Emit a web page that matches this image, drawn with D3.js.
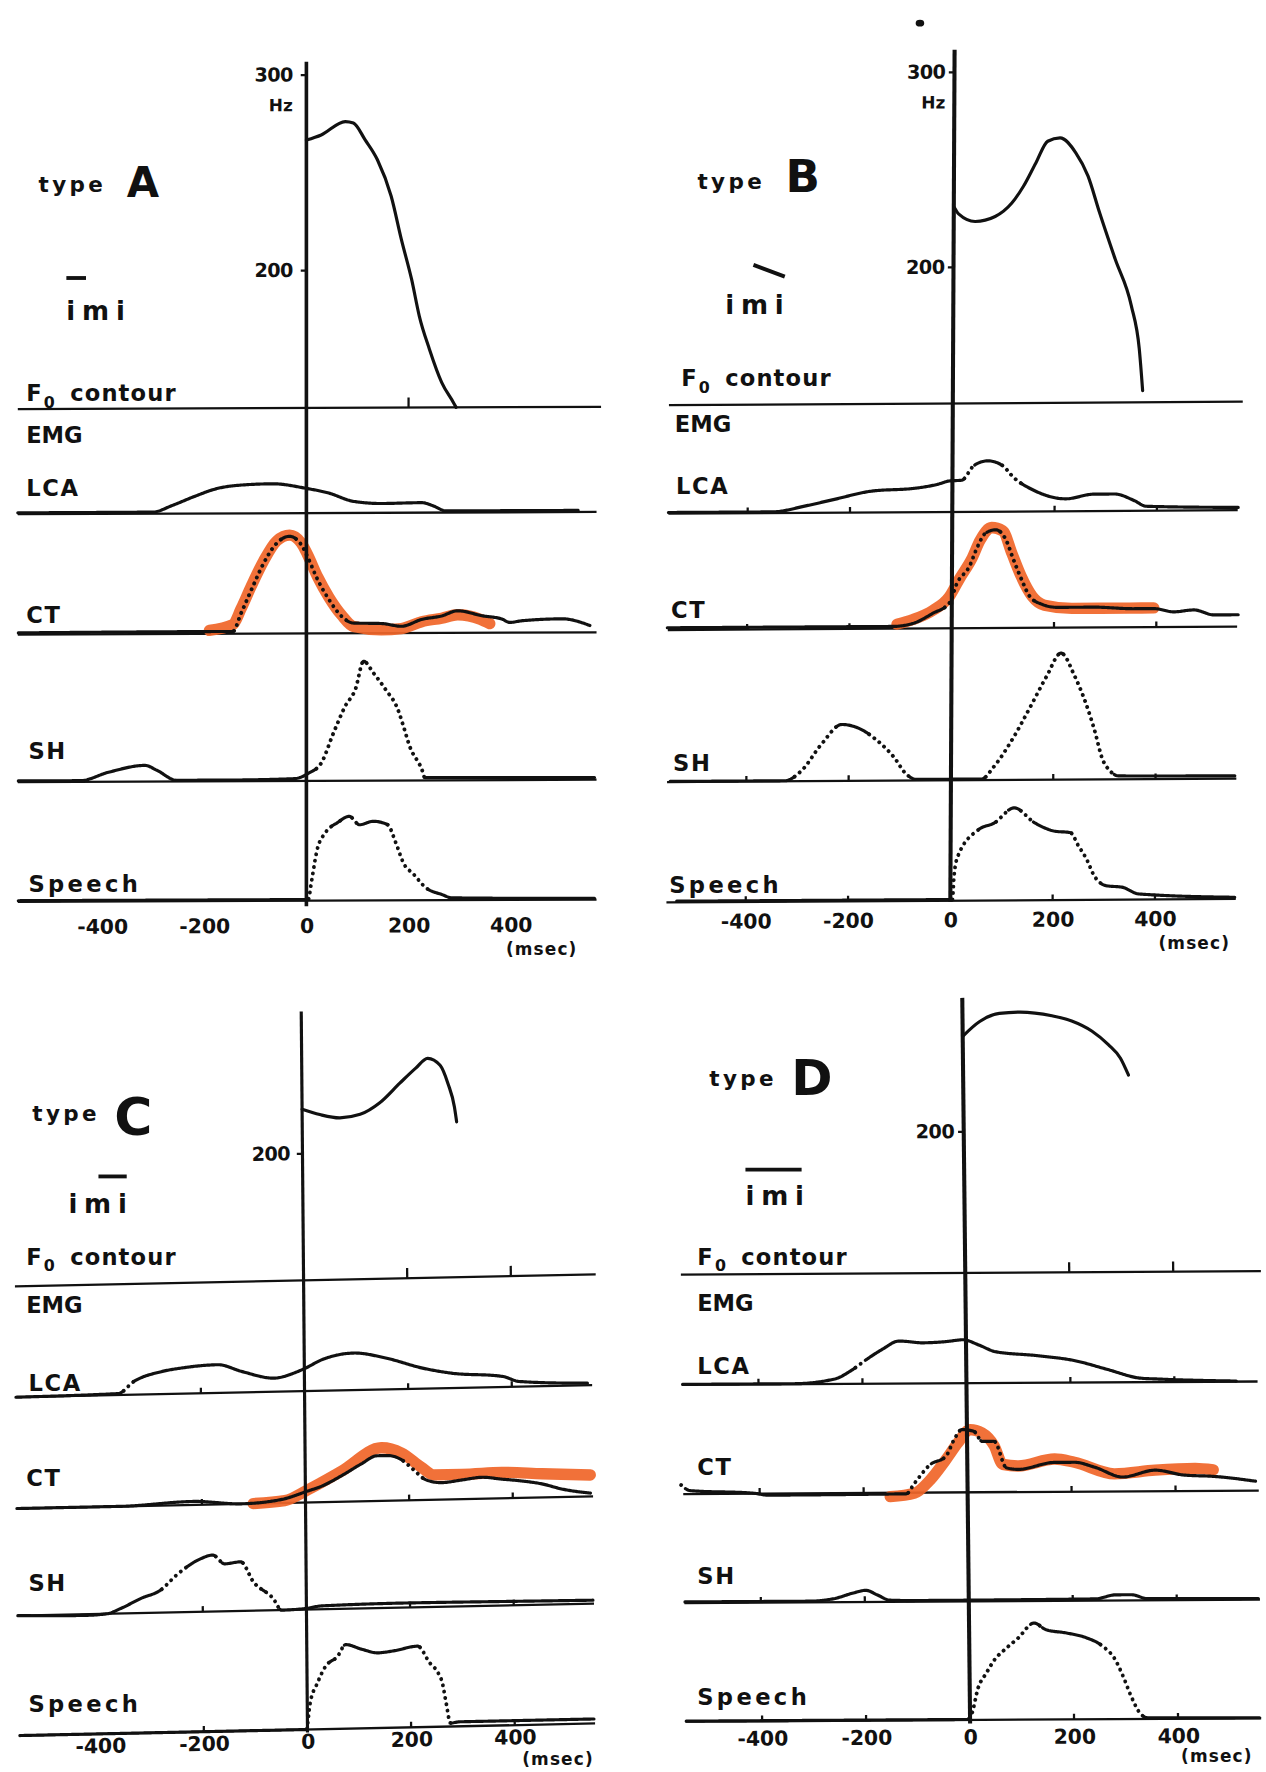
<!DOCTYPE html>
<html><head><meta charset="utf-8">
<script src="https://cdn.jsdelivr.net/npm/d3@7"></script>
<style>
body{margin:0;background:#fff}
svg{display:block}
text{font-family:"DejaVu Sans",sans-serif;fill:#111}
.solid{fill:none;stroke:#111;stroke-width:2.8;stroke-linecap:round;stroke-linejoin:round}
.dot{fill:none;stroke:#111;stroke-width:3.4;stroke-linecap:round;stroke-dasharray:0.1 5.6}
.orange{fill:none;stroke:#f0662a;stroke-width:10;stroke-linecap:round;stroke-linejoin:round;opacity:0.93}
.base{stroke:#111;stroke-width:2}
</style>
</head><body>
<svg id="c" width="1266" height="1772" viewBox="0 0 1120 1568"></svg>
<script>
// ---------------- DATA (time in msec, F0 in Hz, EMG / speech in arbitrary units) ----------------
const xTicks = [-400, -200, 0, 200, 400];
const typeNames = ["A", "B", "C", "D"];
const rowNames = ["LCA", "CT", "SH", "Speech"];

// type A
const A_F0 = [[0,266.5],[29,269.1],[76,275.9],[92,275.1],[115,266.5],[139,256.3],[166,237.6],[186,215.4],[206,195],[221,176.3],[241,159.2],[265,142.2],[288,131.9],[293,129.5]];
const A_LCA = [[-565,1.2],[-301,1.4],[-262,7.3],[-222,14.6],[-175,22],[-128,25],[-65,26],[-2,22],[44,17.6],[92,10.2],[147,8.2],[226,8.8],[249,5.8],[273,1.4],[532,1.4]];
const A_CT = [[-564,1.5],[-184,2],[-144,2],[-128,18],[-108,38.5],[-84,62],[-58,80],[-33,86],[-10,78.5],[2,68],[22,47.5],[44,30],[69,15],[92,9],[147,8.5],[186,6],[226,12],[265,15],[296,19.5],[344,15],[383,12],[398,9],[423,10.5],[501,12],[555,6]];
const A_CT_orange = [[-190,3],[-144,8],[-128,22],[-108,42],[-84,64],[-58,82],[-33,87],[-10,80],[2,70],[22,50],[44,32],[69,16],[92,6],[147,3],[186,4],[226,10],[265,13],[296,16],[340,12],[359,8]];
const A_SH = [[-564,1],[-443,1],[-387,8.4],[-316,14.3],[-293,10],[-254,1],[-157,1],[-24,2],[5,7],[29,15.7],[53,42.3],[76,66],[96,81],[112,105.7],[131,95.4],[155,80.6],[179,63],[190,48],[202,30.5],[226,9.8],[232,2.5],[564,2]];
const A_Speech = [[-564,1],[0,1],[4,1.5],[9.5,15.6],[21,45],[37,60],[61,69],[84,74.5],[104,67],[131,70],[159,67],[175,51],[190,33],[210,23],[234,11],[265,5],[285,2],[564,1]];

// type B
const B_F0 = [[0,231],[10,227],[42,223.2],[81,225.7],[113,232.4],[136,241.1],[160,253],[183,264.1],[207,265.8],[238,258.1],[262,246.2],[285,227.4],[316,203.5],[348,179.6],[364,157.4],[371,136]];
const B_F0_spot = [[-68,325]];
const B_LCA = [[-555,1],[-351,1],[-288,6],[-233,11.5],[-155,19],[-76,21],[-29,24.5],[-5,27.5],[18,28],[42,41],[69,45],[97,41],[120,30],[160,18.5],[222,11],[277,15],[317,15],[356,9],[379,4],[559,2.5]];
const B_CT = [[-556,2],[-115,2],[-76,4.5],[-37,13.4],[-5,22.3],[10,40],[34,54.7],[50,72.4],[65,84],[85,87],[105,78.3],[120,60.6],[136,43],[152,28],[175,21],[207,18],[277,18],[356,16.4],[395,16.4],[434,13.4],[473,15],[513,10.5],[560,10.5]];
const B_CT_orange = [[-107,4],[-76,8],[-37,16],[-5,28],[15,44],[38,61],[55,78],[77,89],[99,86],[117,66],[135,46],[157,28],[181,20],[236,17],[347,17],[395,17]];
const B_SH = [[-549,0.5],[-325,0.5],[-293,9],[-253,33],[-214,50],[-183,47],[-143,35],[-112,21],[-88,6],[-67,1],[60,1],[84,12],[123,38.5],[155,65],[186,91.5],[214,112],[241,91.5],[265,65],[280,44],[296,18],[311,7.5],[328,3],[555,2.5]];
const B_Speech = [[-535,1],[4,1],[7,22],[14,39],[54,62.6],[85,68.5],[124,81.8],[164,68.5],[203,61],[234,59.6],[250,47.8],[266,36],[281,21.3],[305,12.4],[336,11],[368,5],[556,1.5]];

// type C
const C_F0 = [[0,222.5],[34,219.6],[73,217.7],[112,219.3],[150,225],[189,234.8],[220,242.3],[243,247.2],[267,243.5],[282,234],[294,222],[298,214.4]];
const C_LCA = [[-557,0],[-360,1.3],[-329,11.8],[-275,20],[-236,22.8],[-167,25],[-121,18.6],[-59,12.1],[-12,17.6],[3,20.5],[34,27.5],[96,32.8],[158,27.7],[228,18.2],[282,13.3],[383,9.3],[414,4.6],[546,1.8]];
const C_CT = [[-557,0],[-357,0],[-217,3],[-124,0],[-47,3],[4,10],[31,14],[70,23],[108,33],[139,40],[159,40],[186,36],[209,27],[232,18],[263,15],[302,17],[341,19],[379,17],[418,15],[457,12],[496,7],[550,3]];
const C_CT_orange = [[-101,0],[-40,2],[4,11],[70,27],[147,47],[186,42],[224,29],[248,22],[302,22],[379,23],[457,21],[550,19]];
const C_SH = [[-557,0],[-425,-1],[-385,0],[-358,4.5],[-319,13],[-281,20],[-250,33],[-203,47],[-180,50],[-157,42],[-126,43.5],[-102,25.6],[-64,10.4],[-48,0],[0,1],[29,3],[184,4],[417,3.4],[553,3]];
const C_Speech = [[-555,0],[-2,0],[5,22],[20,41],[36,55.6],[59,64],[75,74.4],[106,70],[137,66.5],[168,68],[214,71.7],[237,56.7],[253,47.7],[261,38.8],[268,21],[276,3],[294,4],[553,4]];

// type D
const D_F0 = [[0,248.6],[33,256.1],[71,260.2],[110,260.8],[172,258.8],[210,256.1],[249,250.8],[280,243.9],[303,236.9],[318,228.3]];
const D_LCA = [[-546,0.5],[-330,0.5],[-253,4.5],[-222,11.7],[-191,21.8],[-161,30.5],[-129,37.7],[-83,36],[-37,37],[-6,38.5],[25,33.7],[56,27.8],[133,24.2],[210,19.3],[272,11.4],[334,3.6],[365,2.8],[519,0.5]];
const D_CT = [[-551,8],[-534,3],[-411,0.3],[-384,-1.5],[-118,-1],[-102,8.3],[-72,24.5],[-41,32],[-25,46.6],[-10,55.5],[13,54],[29,45],[52,45],[75,21.5],[98,20],[168,26],[206,26],[245,21.5],[299,12.7],[361,18.6],[415,14.2],[476,12.7],[554,8.3]];
const D_CT_orange = [[-149,-3.5],[-102,-0.5],[-72,11],[-41,29],[-18,43.6],[6,55.5],[29,52.5],[52,41],[68,24.5],[98,23],[168,29],[206,26],[283,15.6],[361,18.6],[438,20],[473,18.6]];
const D_SH = [[-546,1],[-307,1],[-260,3],[-222,8],[-198,10.3],[-175,6],[-152,1.5],[-107,1],[243,1.5],[283,5],[313,5],[343,1.5],[557,1]];
const D_Speech = [[-546,0.5],[-5,0.5],[2,4],[17,29.5],[32,41.3],[48,53],[71,63.3],[94,72.2],[125,85.5],[148,79.5],[187,76.5],[225,72.2],[256,64.8],[280,53],[295,38.2],[310,20.5],[326,5.8],[342,1],[557,0.5]];

// table built from the arrays above
const series = {
  A: {f0: A_F0, spots: [], LCA: A_LCA, CT: A_CT, CTo: A_CT_orange, SH: A_SH, Speech: A_Speech},
  B: {f0: B_F0, spots: B_F0_spot, LCA: B_LCA, CT: B_CT, CTo: B_CT_orange, SH: B_SH, Speech: B_Speech},
  C: {f0: C_F0, spots: [], LCA: C_LCA, CT: C_CT, CTo: C_CT_orange, SH: C_SH, Speech: C_Speech},
  D: {f0: D_F0, spots: [], LCA: D_LCA, CT: D_CT, CTo: D_CT_orange, SH: D_SH, Speech: D_Speech}
};

// ---------------- LAYOUT ----------------
const layout = {
  A:{x0:271,k:0.452,kx:0,ky:-0.004,f0Dom:[129.5,300],f0Rng:[361,66],f0Ticks:[200,300],hz:true,axisTop:54.6,axisBot:802,axisW:3.2,
     rows:{LCA:454,CT:560.5,SH:691,Speech:797},span:[-565,568],xlabOff:22,tickPad:7,f0Mark:[200],rowMarks:[],
     lab:{type:[34,170],letter:[112,174,37],mark:[58.6,246,76,246],imi:[58.6,283],f0:[23,355],emg:[23,392],
          LCA:[23,439],CT:[23,551],SH:[25,672],Speech:[25,789],msec:[447.6,845]}},
  B:{x0:843,k:0.4526,kx:-0.005,ky:-0.006,f0Dom:[130,300],f0Rng:[357,63.5],f0Ticks:[200,300],hz:true,axisTop:44,axisBot:798,axisW:3.6,
     rows:{LCA:453,CT:556,SH:690.5,Speech:797},span:[-555,558],xlabOff:17,tickPad:3,f0Mark:[],rowMarks:[-400,-200,200,400],
     lab:{type:[617,167],letter:[695,170,40],mark:[666.6,234.4,694.3,244.8],imi:[641.7,278],f0:[602.6,342],emg:[597,382],
          LCA:[598,437],CT:[593.7,547],SH:[595.5,682],Speech:[592,790],msec:[1025,839.5]}},
  C:{x0:268.5,k:0.4585,kx:0.0087,ky:-0.021,f0Dom:[135,200],f0Rng:[1133,1020.5],f0Ticks:[200],hz:false,axisTop:895,axisBot:1533,axisW:2.8,
     rows:{LCA:1231,CT:1329.5,SH:1424.3,Speech:1530.4},span:[-557,555],xlabOff:10.5,tickPad:6,f0Mark:[200,400],rowMarks:[-200,200,400],
     lab:{type:[28.4,992],letter:[101,1004,46],mark:[87,1041,112,1041],imi:[60.4,1073],f0:[23,1119],emg:[23,1161.5],
          LCA:[25,1231],CT:[23,1315],SH:[25,1408],Speech:[25,1515],msec:[462,1562]}},
  D:{x0:854,k:0.46,kx:0.0108,ky:-0.006,f0Dom:[127.6,200],f0Rng:[1126.4,1001.1],f0Ticks:[200],hz:false,axisTop:883,axisBot:1525,axisW:3.6,
     rows:{LCA:1224,CT:1320.5,SH:1417,Speech:1522},span:[-547,560],xlabOff:15,tickPad:3.5,f0Mark:[200,400],rowMarks:[-400,-200,200,400],
     lab:{type:[627.5,961],letter:[700,969,44],mark:[659.5,1035,709.2,1035],imi:[659.5,1066],f0:[616.8,1119],emg:[616.8,1160],
          LCA:[616.8,1216],CT:[616.8,1305],SH:[616.8,1402],Speech:[616.8,1509],msec:[1045,1559]}}
};

const svg = d3.select("#c");
svg.append("rect").attr("width",1120).attr("height",1568).attr("fill","#fff");
const THR = 0.7;

function styledTrace(g, data, x, y) {
  const gen = d3.line().x(d => x(d[0])).y(d => y(d[1])).curve(d3.curveMonotoneX);
  const p = g.append("path").attr("d", gen(data)).attr("fill", "none");
  const n = p.node(), L = n.getTotalLength();
  const pts = [];
  for (let s = 0; s < L; s += 1) { const q = n.getPointAtLength(s); pts.push([q.x, q.y]); }
  const e = n.getPointAtLength(L); pts.push([e.x, e.y]);
  p.remove();
  const steep = pts.map((q, i) => {
    const a = pts[Math.max(0, i - 3)], b = pts[Math.min(pts.length - 1, i + 3)];
    return Math.abs(b[1] - a[1]) > THR * Math.abs(b[0] - a[0]);
  });
  const runs = []; let cur = null;
  pts.forEach((q, i) => {
    if (!cur || cur.s !== steep[i]) { if (cur) cur.p.push(q); cur = {s: steep[i], p: [q]}; runs.push(cur); }
    else cur.p.push(q);
  });
  runs.forEach(r => g.append("path").attr("d", d3.line()(r.p)).attr("class", r.s ? "dot" : "solid"));
}

function txt(sel, x, y, s, size, weight, ls, anchor) {
  return sel.append("text").attr("x", x).attr("y", y).attr("font-size", size)
    .attr("font-weight", weight || "bold").attr("letter-spacing", ls || 0)
    .attr("text-anchor", anchor || "start").text(s);
}

typeNames.forEach(name => {
  const P = layout[name], S = series[name], Lb = P.lab;
  const ay = P.f0Rng[0];
  const g = svg.append("g").attr("transform",
    `translate(${P.x0},${ay}) matrix(1,${P.ky},${P.kx},1,0,0) translate(${-P.x0},${-ay})`);
  const x = d3.scaleLinear().domain([-400, 400]).range([P.x0 - 400 * P.k, P.x0 + 400 * P.k]);
  const yF = d3.scaleLinear().domain(P.f0Dom).range(P.f0Rng);

  // F0 baseline and its time marks
  const fb = yF(P.f0Dom[0]);
  g.append("line").attr("class", "base").attr("x1", x(P.span[0])).attr("x2", x(P.span[1]) + 4).attr("y1", fb).attr("y2", fb);
  P.f0Mark.forEach(t => g.append("line").attr("class", "base").attr("x1", x(t)).attr("x2", x(t)).attr("y1", fb).attr("y2", fb - 9));

  // EMG / speech rows
  rowNames.forEach(r => {
    const b = P.rows[r];
    const yr = d3.scaleLinear().domain([0, 100]).range([b, b - 100]);
    g.append("line").attr("class", "base").attr("x1", x(P.span[0])).attr("x2", x(P.span[1])).attr("y1", b).attr("y2", b);
    P.rowMarks.forEach(t => g.append("line").attr("class", "base").attr("x1", x(t)).attr("x2", x(t)).attr("y1", b).attr("y2", b - 5));
    if (r === "CT") {
      g.append("path").attr("class", "orange")
        .attr("d", d3.line().x(d => x(d[0])).y(d => yr(d[1])).curve(d3.curveMonotoneX)(S.CTo));
    }
    styledTrace(g, S[r], x, yr);
  });

  // F0 contour
  g.append("path").attr("class", "solid").attr("stroke-width", 2.6)
    .attr("d", d3.line().x(d => x(d[0])).y(d => yF(d[1])).curve(d3.curveMonotoneX)(S.f0));
  S.spots.forEach(d => g.append("ellipse").attr("cx", x(d[0])).attr("cy", yF(d[1])).attr("rx", 3.8).attr("ry", 3).attr("fill", "#111"));

  // vertical time-zero axis
  g.append("line").attr("x1", x(0)).attr("x2", x(0)).attr("y1", P.axisTop).attr("y2", P.axisBot)
    .attr("stroke", "#111").attr("stroke-width", P.axisW);

  // F0 ticks
  const ya = g.append("g").attr("transform", `translate(${x(0)},0)`)
    .call(d3.axisLeft(yF).tickValues(P.f0Ticks).tickSize(5).tickPadding(P.tickPad).tickFormat(d3.format("d")));
  ya.select(".domain").remove();
  ya.selectAll("line").attr("stroke", "#111").attr("stroke-width", 2);
  ya.selectAll("text").attr("font-size", 17).attr("font-weight", "bold").attr("font-family", "DejaVu Sans").attr("fill", "#111").attr("letter-spacing", -0.5);
  if (P.hz) {
    ya.append("text").attr("x", -5 - P.tickPad).attr("y", yF(300) + 27).attr("dy", "0.36em")
      .attr("text-anchor", "end").attr("font-size", 15).attr("font-weight", "bold").attr("fill", "#111").text("Hz");
  }

  // time axis labels
  const xa = g.append("g").attr("transform", `translate(0,${P.rows.Speech + P.xlabOff})`)
    .call(d3.axisBottom(x).tickValues(xTicks).tickSize(0).tickPadding(0).tickFormat(d => String(d)));
  xa.select(".domain").remove();
  xa.selectAll("text").attr("y", 0).attr("dy", "0.36em").attr("font-size", 18).attr("font-weight", "bold")
    .attr("font-family", "DejaVu Sans").attr("fill", "#111");

  // text labels
  txt(svg, Lb.type[0], Lb.type[1], "type", 19, "bold", 3);
  txt(svg, Lb.letter[0], Lb.letter[1], name, Lb.letter[2], "bold", 0);
  svg.append("line").attr("x1", Lb.mark[0]).attr("y1", Lb.mark[1]).attr("x2", Lb.mark[2]).attr("y2", Lb.mark[3])
    .attr("stroke", "#111").attr("stroke-width", 3.4);
  txt(svg, Lb.imi[0], Lb.imi[1], "imi", 23, "bold", 6).attr("font-family", "DejaVu Serif");
  const f0t = txt(svg, Lb.f0[0], Lb.f0[1], "F", 20, "bold", 0);
  f0t.append("tspan").attr("font-size", 14).attr("dy", 6).attr("dx", 2).text("0");
  f0t.append("tspan").attr("x", Lb.f0[0] + 39).attr("dy", -6).attr("letter-spacing", 1).text("contour");
  txt(svg, Lb.emg[0], Lb.emg[1], "EMG", 20, "bold", 0);
  rowNames.forEach(r => txt(svg, Lb[r][0], Lb[r][1], r, 20, "bold", r === "Speech" ? 3 : 1.5));
  txt(svg, Lb.msec[0], Lb.msec[1], "(msec)", 15, "bold", 1);
});
</script>
</body></html>
